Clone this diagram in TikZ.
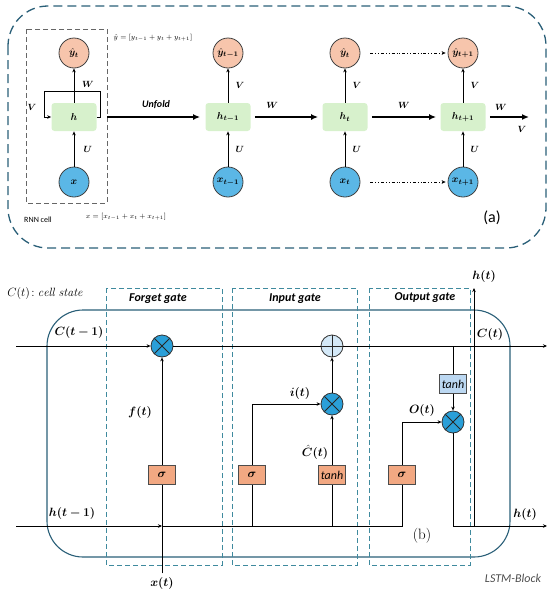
\documentclass[tikz,border=0pt]{standalone}
\usepackage{amsmath,amssymb,bm}
\usepackage{fontspec}
\setsansfont{Carlito}
\usepackage{tikz}
\usetikzlibrary{arrows.meta,calc,positioning}
\definecolor{lstm-frame}{HTML}{2A5F78}
\definecolor{lstm-gate}{HTML}{3F8A9E}
\definecolor{rnn-peach}{HTML}{F7C5AC}
\definecolor{rnn-blue}{HTML}{5BB7E6}
\definecolor{rnn-green}{HTML}{D7F1CC}
\definecolor{lstm-sig}{HTML}{F2A882}
\definecolor{lstm-tanh}{HTML}{BCD8F2}
\definecolor{lstm-mul}{HTML}{2A9FD8}
\definecolor{lstm-add}{HTML}{D4E9F8}

\tikzset{
  outnode/.style={circle,draw=black!75,fill=rnn-peach,minimum size=30pt,inner sep=0pt,font=\normalsize},
  innode/.style={circle,draw=black!75,fill=rnn-blue,minimum size=30pt,inner sep=0pt,font=\normalsize},
  hidnode/.style={rectangle,rounded corners=3pt,fill=rnn-green,minimum width=45pt,minimum height=28pt,font=\normalsize},
  wlabel/.style={font=\small},
  blabel/.style={font=\large},
  bigarrow/.style={-{Latex[length=7pt,width=6pt]},line width=1.6pt},
  dotarrow/.style={->,dash dot dot,thin},
  gatebox/.style={draw=lstm-gate,dashed,dash pattern=on 5pt off 3pt,thick},
  gatetitle/.style={font=\sffamily\bfseries\itshape\fontsize{12}{12}\selectfont},
  actbox/.style={rectangle,draw=black!70,minimum width=27pt,minimum height=19pt,inner sep=0pt,font=\large},
  mulnode/.style={circle,draw=black!80,fill=lstm-mul,minimum size=22pt,inner sep=0pt,
    path picture={\draw[black!85] (path picture bounding box.north west) -- (path picture bounding box.south east)
      (path picture bounding box.north east) -- (path picture bounding box.south west);}},
  addnode/.style={circle,draw=black!80,fill=lstm-add,minimum size=22pt,inner sep=0pt,
    path picture={\draw[black!85] (path picture bounding box.north) -- (path picture bounding box.south)
      (path picture bounding box.west) -- (path picture bounding box.east);}},
}

\begin{document}
\begin{tikzpicture}[x=1pt,y=-1pt,>={Stealth[length=4pt,width=3.5pt]},thick]
  \useasboundingbox (0,0) rectangle (550,592);

  % ---------------- (a) RNN og udrulning ----------------
  \draw[lstm-frame,line width=1.3pt,dash pattern=on 9pt off 5pt,rounded corners=40pt] (8,6) rectangle (546,248);
  % RNN-celle
  \coordinate (cellA) at (26,29);
  \coordinate (cellB) at (107,203);
  \draw[black!60,dashed,dash pattern=on 5pt off 3pt] (cellA) rectangle (cellB);

  \node[outnode] (yc) at (74,53) {$\bm{\hat y_t}$};
  \node[hidnode] (hc) at (74,117) {$\bm{h}$};
  \node[innode]  (xc) at (74,182) {$\bm{x}$};
  \draw[->] (xc) -- (hc) node[midway,right=6pt,wlabel] {$\bm{U}$};
  \draw[->] (hc) -- (yc);
  % Tilbagekobling
  \coordinate (loopR) at (100,91);
  \coordinate (loopL) at (44,91);
  \draw[->] (hc.east) -| (loopR) -- (loopL) |- (hc.west);
  \node[wlabel] (lw) at (88,84) {$\bm{W}$};
  \node[wlabel] (lv) at (32,107) {$\bm{V}$};

  \node[font=\scriptsize,anchor=west] (yvec) at (110,38) {$\hat{y}=[y_{t-1}+y_{t}+y_{t+1}]$};
  \node[font=\sffamily\footnotesize] (cellname) at (38,220) {RNN cell};
  \node[font=\scriptsize] (xvec) at (126,217) {$x=[x_{t-1}+x_{t}+x_{t+1}]$};

  % Udrullede trin
  \node[hidnode] (h1) at (228,117) {$\bm{h_{t-1}}$};
  \node[outnode] (y1) at (228,53)  {$\bm{\hat y_{t-1}}$};
  \node[innode]  (x1) at (228,182) {$\bm{x_{t-1}}$};
  \node[hidnode] (h2) at (345,117) {$\bm{h_{t}}$};
  \node[outnode] (y2) at (345,53)  {$\bm{\hat y_{t}}$};
  \node[innode]  (x2) at (345,182) {$\bm{x_{t}}$};
  \node[hidnode] (h3) at (463,117) {$\bm{h_{t+1}}$};
  \node[outnode] (y3) at (463,53)  {$\bm{\hat y_{t+1}}$};
  \node[innode]  (x3) at (463,182) {$\bm{x_{t+1}}$};
  \foreach \k in {1,2,3}{
    \draw[->] (x\k) -- (h\k) node[midway,right=4pt,wlabel] {$\bm{U}$};
    \draw[->] (h\k) -- (y\k) node[midway,right=4pt,wlabel] {$\bm{V}$};
  }
  \draw[bigarrow,shorten >=5pt] (cellB |- hc) -- (h1.west)
    node[midway,above=4pt,font=\sffamily\bfseries\itshape\normalsize] {Unfold};
  \draw[bigarrow,shorten <=4pt,shorten >=4pt] (h1) -- (h2) node[pos=0.3,above=4pt,wlabel] {$\bm{W}$};
  \draw[bigarrow,shorten <=4pt,shorten >=4pt] (h2) -- (h3) node[midway,above=4pt,wlabel] {$\bm{W}$};
  \coordinate (hend) at (529,117);
  \draw[bigarrow,shorten <=4pt] (h3) -- (hend);
  \node[wlabel] (wend) at (501,107) {$\bm{W}$};
  \node[wlabel] (vend) at (522,129) {$\bm{V}$};
  \draw[dotarrow,shorten <=10pt,shorten >=2pt] (y2) -- (y3);
  \draw[dotarrow,shorten <=10pt,shorten >=2pt] (x2) -- (x3);
  \node[font=\sffamily\fontsize{16}{16}\selectfont] (tag-a) at (492,218) {(a)};

  % ---------------- (b) LSTM-blok ----------------
  \node[blabel] (cstate) at (45,293) {$C(t)\!:\mathit{cell\ state}$};
  \draw[lstm-frame,line width=1.1pt,rounded corners=36pt] (47,310) rectangle (510,557);
  % Porte
  \draw[gatebox] (106,288) rectangle (222,565);
  \draw[gatebox] (232,288) rectangle (357,565);
  \draw[gatebox] (369,288) rectangle (470,565);
  \node[gatetitle] (tf) at (158,299) {Forget gate};
  \node[gatetitle] (ti) at (295,299) {Input gate};
  \node[gatetitle] (to) at (425,298) {Output gate};

  % Celletilstand
  \coordinate (cin) at (16,346);
  \coordinate (cout) at (547,346);
  \node[mulnode] (fmul) at (162,346) {};
  \node[addnode] (iadd) at (332,346) {};
  \draw[->] (cin) -- (fmul);
  \draw (fmul) -- (iadd);
  \draw[->] (iadd) -- (cout);
  \node[blabel] (lc1) at (79,332) {$\bm{C(t-1)}$};
  \node[blabel] (lc2) at (490,334) {$\bm{C(t)}$};

  % Skjult tilstand og input
  \coordinate (hin) at (16,526);
  \coordinate (xjoin) at (162,526);
  \node[blabel] (xt) at (162,583) {$\bm{x(t)}$};
  \node[blabel] (lh1) at (72,513) {$\bm{h(t-1)}$};
  \node[actbox,fill=lstm-sig] (fsig) at (162,475) {$\bm{\sigma}$};
  \node[actbox,fill=lstm-sig] (isig) at (252,475) {$\bm{\sigma}$};
  \node[actbox,fill=lstm-sig,font=\sffamily\itshape\fontsize{12}{12}\selectfont] (itanh) at (332,475) {tanh};
  \node[actbox,fill=lstm-sig] (osig) at (402,475) {$\bm{\sigma}$};
  \node[actbox,fill=lstm-tanh,font=\sffamily\itshape\fontsize{12}{12}\selectfont] (otanh) at (453,384) {tanh};
  \node[mulnode] (imul) at (332,404) {};
  \node[mulnode] (omul) at (453,422) {};

  \draw[->] (hin) -- (xjoin);
  \draw (xjoin) -| (osig);
  \draw (xt) -- (fsig);
  \draw[->] (fsig) -- (fmul);
  \node[blabel] (lf) at (140,412) {$\bm{f(t)}$};
  \draw (isig |- xjoin) -- (isig);
  \draw[->] (isig) |- (imul);
  \draw (itanh |- xjoin) -- (itanh);
  \draw[->] (itanh) -- (imul);
  \draw[->] (imul) -- (iadd);
  \node[blabel] (li) at (300,393) {$\bm{i(t)}$};
  \node[blabel,inner sep=1pt] (lcc) at (315,452) {$\bm{\hat{C}(t)}$};
  \draw[->] (osig) |- (omul);
  \node[blabel] (lo) at (422,410) {$\bm{O(t)}$};
  \coordinate (ctap) at (453,346);
  \draw (ctap) -- (otanh);
  \draw[->] (otanh) -- (omul);
  \coordinate (hout) at (547,526);
  \draw[->] (omul) |- (hout);
  \node[blabel] (lh2) at (525,514) {$\bm{h(t)}$};
  \coordinate (hjoin) at (474,526);
  \coordinate (hup) at (474,288);
  \draw[->] (hjoin) -- (hup);
  \node[blabel] (lh3) at (484,276) {$\bm{h(t)}$};
  \node[font=\fontsize{15}{15}\selectfont] (tag-b) at (422,536) {(b)};
  \node[font=\sffamily\itshape\fontsize{12}{12}\selectfont,text=black!70] (blockname) at (513,578) {LSTM-Block};
\end{tikzpicture}
\end{document}
